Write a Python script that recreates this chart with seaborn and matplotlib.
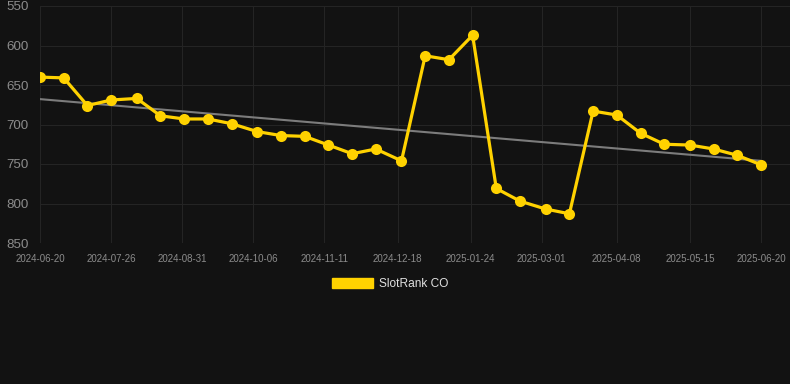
import matplotlib
matplotlib.use("Agg")
import matplotlib.pyplot as plt
import matplotlib.dates as mdates
from matplotlib.patches import Patch
import seaborn as sns
import numpy as np
import pandas as pd

# ---- data ----
dates = ["2024-06-20", "2024-07-02", "2024-07-14", "2024-07-26", "2024-08-08",
         "2024-08-20", "2024-09-01", "2024-09-13", "2024-09-25", "2024-10-08",
         "2024-10-20", "2024-11-01", "2024-11-13", "2024-11-25", "2024-12-07",
         "2024-12-20", "2025-01-01", "2025-01-13", "2025-01-25", "2025-02-06",
         "2025-02-18", "2025-03-03", "2025-03-15", "2025-03-27", "2025-04-08",
         "2025-04-20", "2025-05-02", "2025-05-15", "2025-05-27", "2025-06-08",
         "2025-06-20"]
rank = [640, 641, 676, 669, 667, 689, 693, 693, 699, 709,
        714, 715, 726, 737, 731, 746, 613, 618, 587, 781,
        797, 807, 813, 683, 688, 711, 725, 726, 731, 739,
        751]
series_name = "SlotRank CO"
tick_labels = ["2024-06-20", "2024-07-26", "2024-08-31", "2024-10-06", "2024-11-11",
               "2024-12-18", "2025-01-24", "2025-03-01", "2025-04-08", "2025-05-15",
               "2025-06-20"]
y_ticks = [550, 600, 650, 700, 750, 800, 850]

BG = "#121212"
GRID = "#242424"
GOLD = "#FFD200"
TREND = "#7c7c7c"
TICKC = "#8c8c8c"

df = pd.DataFrame({"date": pd.to_datetime(dates), "rank": rank})
xnum = mdates.date2num(df["date"])
coef = np.polyfit(xnum, df["rank"], 1)
trend = pd.DataFrame({"date": df["date"], "rank": np.polyval(coef, xnum)})

sns.set_theme(style="dark")
plt.rcParams["font.family"] = ["Liberation Sans", "DejaVu Sans"]

fig = plt.figure(figsize=(7.9, 3.84), dpi=100, facecolor=BG)
ax = fig.add_axes([40 / 790, 1 - 243 / 384, 750 / 790, 237 / 384])
ax.set_facecolor(BG)

sns.lineplot(data=trend, x="date", y="rank", ax=ax, color=TREND, linewidth=1.5, zorder=2)
sns.lineplot(data=df, x="date", y="rank", ax=ax, color=GOLD, linewidth=2.3,
             marker="o", markersize=8, markeredgewidth=0, zorder=3)

x0 = pd.Timestamp(dates[0])
x1 = pd.Timestamp(dates[-1])
span = (x1 - x0)
ax.set_xlim(x0, x0 + span * (750 / 721))
ax.set_ylim(850, 550)
ax.set_yticks(y_ticks)
ax.set_yticklabels([str(v) for v in y_ticks])

tick_pos = pd.to_datetime(tick_labels)
ax.set_xticks(tick_pos)
ax.set_xticklabels(tick_labels)

ax.grid(True, color=GRID, linewidth=0.8)
ax.tick_params(axis="y", colors=GRID, length=5, width=0.8, labelcolor=TICKC, labelsize=9.6, pad=3)
ax.tick_params(axis="x", colors=GRID, length=5, width=0.8, labelcolor=TICKC, labelsize=7, pad=3)
for s in ax.spines.values():
    s.set_visible(False)
ax.set_xlabel("")
ax.set_ylabel("")

handle = Patch(facecolor=GOLD, edgecolor=GOLD, label=series_name)
leg = fig.legend(handles=[handle], loc="center", bbox_to_anchor=(390 / 790, 1 - 284 / 384),
                 frameon=False, fontsize=8.6, handlelength=3.4, handleheight=1.0,
                 handletextpad=0.5, labelcolor="#e0e0e0")

fig.savefig("out.png", dpi=100, facecolor=BG)
